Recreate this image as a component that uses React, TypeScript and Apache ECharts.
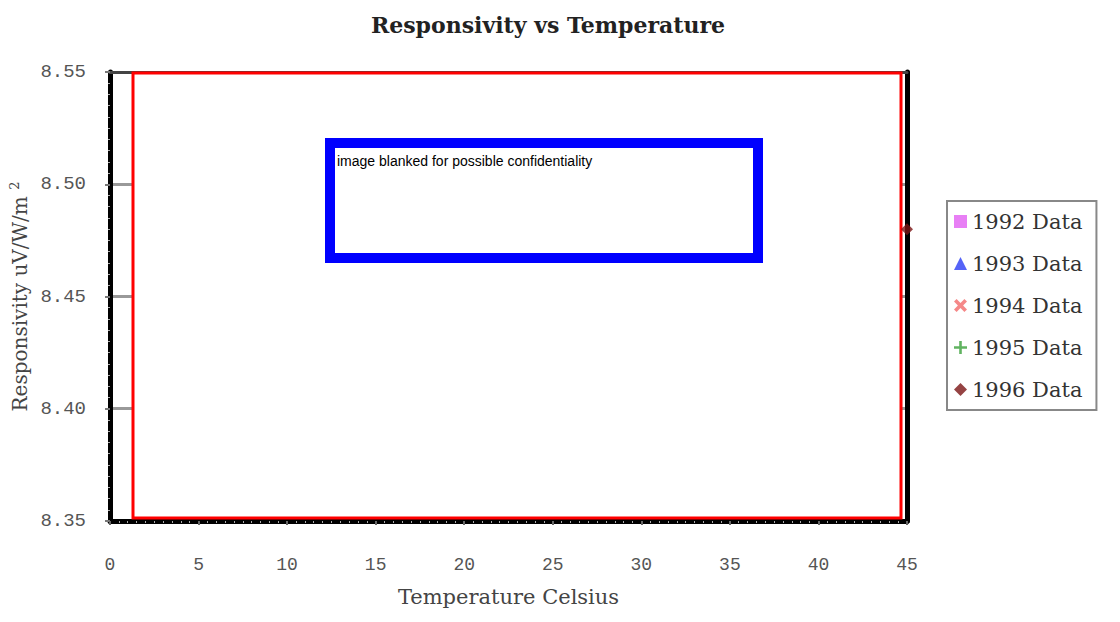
import React, { useEffect, useRef } from "react";
import * as echarts from "echarts";

const seriesNames = ["1992 Data", "1993 Data", "1994 Data", "1995 Data", "1996 Data"];
const seriesColors = ["#e25ff2", "#2a3cf5", "#f26a6a", "#3aa03a", "#7a1414"];
const data1992: number[][] = [];
const data1993: number[][] = [];
const data1994: number[][] = [];
const data1995: number[][] = [];
const data1996: number[][] = [[45, 8.48]];
const xTicks = [0, 5, 10, 15, 20, 25, 30, 35, 40, 45];
const yTicks = [8.35, 8.4, 8.45, 8.5, 8.55];

const SYM_X = "path://M2,0L5,3L8,0L10,2L7,5L10,8L8,10L5,7L2,10L0,8L3,5L0,2Z";
const SYM_PLUS = "path://M4,0H6V4H10V6H6V10H4V6H0V4H4Z";
const seriesSymbols = ["rect", "triangle", SYM_X, SYM_PLUS, "diamond"];
const seriesData = [data1992, data1993, data1994, data1995, data1996];

export default function App() {
  const ref = useRef<HTMLDivElement>(null);
  useEffect(() => {
    if (!ref.current) return;
    const chart = echarts.init(ref.current, null, { renderer: "svg" });
    const serif = "DejaVu Serif";
    const mono = "Liberation Mono";
    chart.setOption({
      animation: false,
      backgroundColor: "#ffffff",
      title: {
        text: "Responsivity vs Temperature",
        left: 543,
        textAlign: "center",
        top: 9,
        textStyle: { fontFamily: serif, fontWeight: "bold", fontSize: 22, color: "#222" },
      },
      grid: { left: 105, right: 213, top: 72, bottom: 101 },
      legend: {
        orient: "vertical",
        left: 947,
        top: 201,
        data: seriesNames,
        itemWidth: 13,
        itemHeight: 13,
        itemGap: 21,
        padding: [10, 14, 10, 7],
        borderColor: "#888",
        borderWidth: 2,
        backgroundColor: "#fff",
        textStyle: { fontFamily: serif, fontSize: 21, color: "#333", padding: [0, 0, 0, 0] },
      },
      xAxis: [
        {
          type: "value",
          min: xTicks[0],
          max: xTicks[xTicks.length - 1],
          interval: 5,
          position: "bottom",
          name: "Temperature Celsius",
          nameLocation: "middle",
          nameGap: 65,
          nameTextStyle: { fontFamily: serif, fontSize: 21, color: "#444" },
          axisLine: { show: true, onZero: false, lineStyle: { color: "#000", width: 5 } },
          axisTick: { show: true, length: 4, lineStyle: { color: "#666", width: 2 } },
          minorTick: { show: true, splitNumber: 10, length: 2, lineStyle: { color: "#aaa" } },
          axisLabel: { margin: 35, fontFamily: mono, fontSize: 18, color: "#555" },
          splitLine: { show: false },
        },
        {
          type: "value",
          min: xTicks[0],
          max: xTicks[xTicks.length - 1],
          interval: 5,
          position: "top",
          axisLine: { show: true, onZero: false, lineStyle: { color: "#444", width: 3 } },
          axisTick: { show: false },
          axisLabel: { show: false },
          splitLine: { show: false },
        },
      ],
      yAxis: [
        {
          type: "value",
          min: yTicks[0],
          max: yTicks[yTicks.length - 1],
          interval: 0.05,
          position: "left",
          name: "Responsivity uV/W/m {sup|2}",
          nameLocation: "middle",
          nameGap: 78,
          nameTextStyle: {
            fontFamily: serif,
            fontSize: 20,
            color: "#444",
            rich: { sup: { fontFamily: serif, fontSize: 13, color: "#444", verticalAlign: "top", padding: [0, 0, 10, 0] } },
          },
          axisLine: { show: true, onZero: false, lineStyle: { color: "#000", width: 5 } },
          axisTick: { show: true, length: 5, lineStyle: { color: "#777", width: 2 } },
          minorTick: { show: true, splitNumber: 10, length: 2, lineStyle: { color: "#aaa" } },
          axisLabel: {
            margin: 24,
            fontFamily: mono,
            fontSize: 19,
            color: "#555",
            formatter: (v: number) => v.toFixed(2),
          },
          splitLine: { show: true, lineStyle: { color: "#999", width: 3 } },
        },
        {
          type: "value",
          min: yTicks[0],
          max: yTicks[yTicks.length - 1],
          interval: 0.05,
          position: "right",
          axisLine: { show: true, onZero: false, lineStyle: { color: "#000", width: 5 } },
          axisTick: { show: false },
          axisLabel: { show: false },
          splitLine: { show: false },
        },
      ],
      graphic: [
        {
          type: "rect",
          z: 1,
          shape: { x: 133, y: 73, width: 768, height: 445 },
          style: { fill: "#fff", stroke: "#ff0000", lineWidth: 3 },
        },
        {
          type: "rect",
          z: 50,
          shape: { x: 330, y: 143, width: 428, height: 115 },
          style: { fill: "#fff", stroke: "#0000ff", lineWidth: 10 },
        },
        {
          type: "text",
          z: 51,
          x: 337,
          y: 154,
          style: {
            text: "image blanked for possible confidentiality",
            fontFamily: "Liberation Sans",
            fontSize: 14,
            fill: "#000",
            textVerticalAlign: "top",
          },
        },
      ],
      series: seriesNames.map((name, i) => ({
        name,
        type: "scatter",
        z: 20,
        clip: false,
        symbol: seriesSymbols[i],
        symbolSize: 12,
        itemStyle: { color: seriesColors[i] },
        data: seriesData[i],
      })),
    });
    return () => chart.dispose();
  }, []);
  return (
    <div
      ref={ref}
      style={{ position: "fixed", left: 0, top: 0, width: 1120, height: 622, background: "#fff" }}
    />
  );
}
